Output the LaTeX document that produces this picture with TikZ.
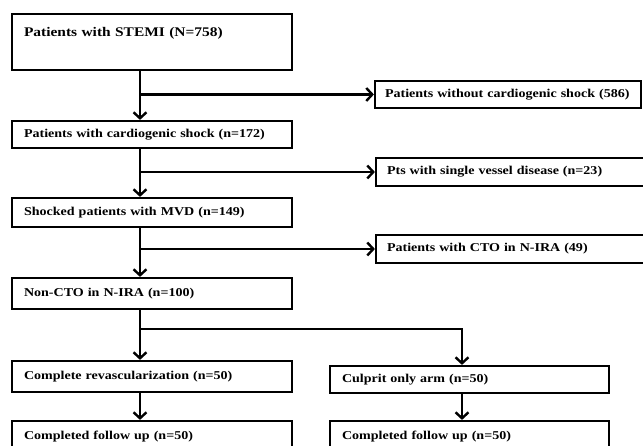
\documentclass[tikz,border=0pt]{standalone}
\usepackage{fontspec}
\setmainfont{Liberation Serif}[FakeStretch=1.17]
\usetikzlibrary{arrows.meta}
\tikzset{
  flowbox/.style={draw, rectangle, line width=2.2pt, inner ysep=0pt, inner xsep=12pt,
    align=left, font=\bfseries\fontsize{12}{14}\selectfont},
  arr/.style={line width=2.4pt, -{Straight Barb[length=6pt,width=13pt]}}
}
\begin{document}
\begin{tikzpicture}[x=1pt,y=-1pt]
    \useasboundingbox (0,0) rectangle (643,446);
    \clip (0,0) rectangle (643,446);
    \def\lw{256pt}
    \def\rw{252pt}
    \coordinate (spine) at (140,0);
    \coordinate (rspine) at (462,0);
        % main column
        \node[flowbox, text width=\lw, text height=23pt, text depth=33pt,
              font=\bfseries\fontsize{13.2}{15}\selectfont] (stemi) at (152,42)
              {Patients with STEMI (N=758)};
        \node[flowbox, text width=\lw, minimum height=27pt] (shock) at (152,134.5)
              {Patients with cardiogenic shock (n=172)};
        \node[flowbox, text width=\lw, minimum height=29pt] (mvd) at (152,212.5)
              {Shocked patients with MVD (n=149)};
        \node[flowbox, text width=\lw, minimum height=31pt] (nocto) at (152,293.5)
              {Non-CTO in N-IRA (n=100)};
        \node[flowbox, text width=\lw, minimum height=31pt] (complete) at (152,376.5)
              {Complete revascularization (n=50)};
        \node[flowbox, text width=\lw, minimum height=31pt] (fuleft) at (152,436.5)
              {Completed follow up (n=50)};
        % exclusions
        \node[flowbox, text width=246pt, inner xsep=10pt, minimum height=27pt] (noshock) at (508,94.5)
              {Patients without cardiogenic shock (586)};
        \node[flowbox, text width=\rw, inner xsep=11pt, minimum height=28pt] (single) at (513,172)
              {Pts with single vessel disease (n=23)};
        \node[flowbox, text width=\rw, inner xsep=11pt, minimum height=28pt] (cto) at (513,249)
              {Patients with CTO in N-IRA (49)};
        % culprit arm
        \node[flowbox, text width=255pt, minimum height=27pt] (culprit) at (469.5,379.5)
              {Culprit only arm (n=50)};
        \node[flowbox, text width=255pt, minimum height=31pt] (furight) at (469.5,436.5)
              {Completed follow up (n=50)};

    \draw[arr] (stemi.south -| spine) -- (shock.north -| spine);
    \draw[arr] (noshock.west -| spine) -- (noshock.west);
    \draw[arr] (shock.south -| spine) -- (mvd.north -| spine);
    \draw[arr] (single.west -| spine) -- (single.west);
    \draw[arr] (mvd.south -| spine) -- (nocto.north -| spine);
    \draw[arr] (cto.west -| spine) -- (cto.west);
    \draw[arr] (nocto.south -| spine) -- (complete.north -| spine);
    \coordinate (split) at (140,329);
    \draw[arr] (split) -| (culprit.north -| rspine);
    \draw[arr] (complete.south -| spine) -- (fuleft.north -| spine);
    \draw[arr] (culprit.south -| rspine) -- (furight.north -| rspine);
\end{tikzpicture}
\end{document}
